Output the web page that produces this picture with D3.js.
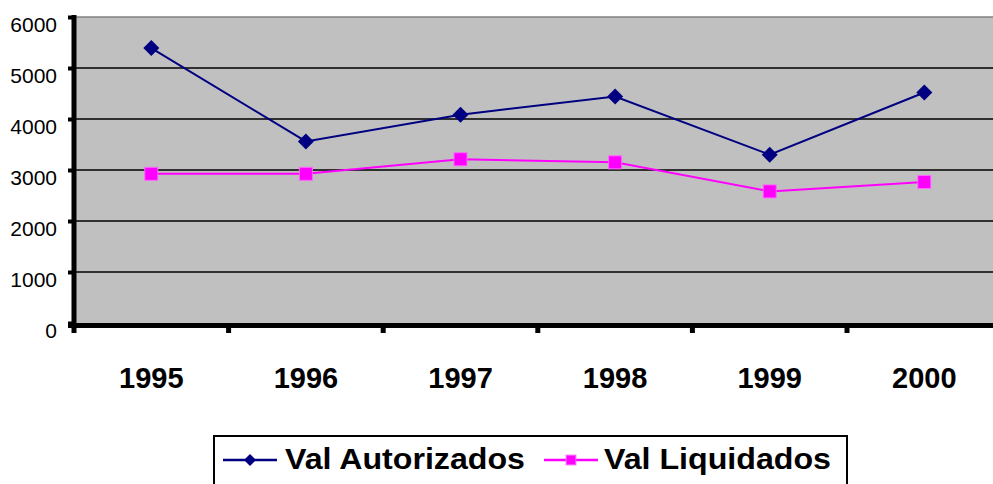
<!DOCTYPE html>
<html>
<head>
<meta charset="utf-8">
<script src="https://cdn.jsdelivr.net/npm/d3@7"></script>
<style>
  html, body { margin: 0; padding: 0; background: #fff; }
  svg { display: block; font-family: "Liberation Sans", Arial, sans-serif; }
</style>
</head>
<body>
<svg id="chart" width="993" height="484"></svg>
<script>
const years = ['1995', '1996', '1997', '1998', '1999', '2000'];
const autorizados = [5390, 3560, 4085, 4440, 3300, 4520];
const liquidados = [2925, 2925, 3210, 3150, 2580, 2765];
const yTicks = [0, 1000, 2000, 3000, 4000, 5000, 6000];

const svg = d3.select('#chart');

const plot = { left: 74, top: 17, bottom: 323, bandW: 154.6 };
plot.right = plot.left + plot.bandW * years.length;

const x = d3.scaleBand().domain(years).range([plot.left, plot.right]);
const y = d3.scaleLinear().domain([0, 6000]).range([plot.bottom, plot.top]);

// plot area
svg.append('rect')
  .attr('x', plot.left).attr('y', plot.top)
  .attr('width', plot.right - plot.left).attr('height', plot.bottom - plot.top)
  .attr('fill', '#c0c0c0');
svg.append('line')
  .attr('x1', plot.left).attr('x2', plot.right)
  .attr('y1', plot.top).attr('y2', plot.top)
  .attr('stroke', '#808080').attr('stroke-width', 1.5);

// gridlines
svg.append('g')
  .selectAll('line')
  .data(yTicks.filter(d => d > 0 && d < 6000))
  .join('line')
  .attr('x1', plot.left).attr('x2', plot.right)
  .attr('y1', d => y(d)).attr('y2', d => y(d))
  .attr('stroke', '#000').attr('stroke-width', 1.5);

// y axis
const yAxis = svg.append('g')
  .attr('transform', `translate(${plot.left},0)`)
  .call(d3.axisLeft(y).tickValues(yTicks).tickFormat(d3.format('d')).tickSize(6).tickPadding(11));
yAxis.select('.domain').remove();
yAxis.selectAll('.tick line').attr('stroke', '#000').attr('stroke-width', 4);
yAxis.selectAll('.tick text')
  .attr('font-size', 21).attr('fill', '#000')
  .attr('font-family', '"Liberation Sans", Arial, sans-serif')
  .attr('dy', 14);
svg.append('line')
  .attr('x1', plot.left).attr('x2', plot.left)
  .attr('y1', plot.top - 2).attr('y2', plot.bottom + 5)
  .attr('stroke', '#000').attr('stroke-width', 5);

// x axis
svg.append('line')
  .attr('x1', plot.left - 6).attr('x2', plot.right)
  .attr('y1', plot.bottom + 2.5).attr('y2', plot.bottom + 2.5)
  .attr('stroke', '#000').attr('stroke-width', 5);
svg.append('g')
  .selectAll('line')
  .data(years)
  .join('line')
  .attr('x1', d => x(d)).attr('x2', d => x(d))
  .attr('y1', plot.bottom).attr('y2', plot.bottom + 10)
  .attr('stroke', '#000').attr('stroke-width', 5);

const xAxis = svg.append('g')
  .attr('transform', `translate(0,${plot.bottom})`)
  .call(d3.axisBottom(x).tickSize(0).tickPadding(0));
xAxis.select('.domain').remove();
xAxis.selectAll('.tick text')
  .attr('font-size', 29).attr('font-weight', 'bold').attr('fill', '#000')
  .attr('font-family', '"Liberation Sans", Arial, sans-serif')
  .attr('y', 65).attr('dy', 0);

// series
const cx = d => x(d) + x.bandwidth() / 2;
const line = d3.line().x(d => cx(d.year)).y(d => y(d.value));

const series = [
  { name: 'Val Autorizados', values: autorizados, color: '#000080', marker: 'diamond' },
  { name: 'Val Liquidados', values: liquidados, color: '#ff00ff', marker: 'square' },
];

function drawMarker(g, s, px, py, scale) {
  if (s.marker === 'diamond') {
    const r = 8 * scale;
    g.append('path')
      .attr('d', `M${px},${py - r}L${px + r},${py}L${px},${py + r}L${px - r},${py}Z`)
      .attr('fill', s.color);
  } else {
    const h = 6.5 * scale;
    g.append('rect')
      .attr('x', px - h).attr('y', py - h)
      .attr('width', 2 * h).attr('height', 2 * h)
      .attr('fill', s.color).attr('stroke', '#ff66ff').attr('stroke-width', 1);
  }
}

series.forEach(s => {
  const pts = years.map((yr, i) => ({ year: yr, value: s.values[i] }));
  svg.append('path')
    .datum(pts)
    .attr('d', line)
    .attr('fill', 'none')
    .attr('stroke', s.color)
    .attr('stroke-width', 2);
  const g = svg.append('g');
  pts.forEach(p => drawMarker(g, s, cx(p.year), y(p.value), 1));
});

// legend
const legend = svg.append('g');
legend.append('rect')
  .attr('x', 214).attr('y', 436)
  .attr('width', 633).attr('height', 60)
  .attr('fill', '#fff').attr('stroke', '#000').attr('stroke-width', 2);

const legendItems = [
  { x0: 223, tx: 285, w: 240 },
  { x0: 544, tx: 604, w: 227 },
];
series.forEach((s, i) => {
  const it = legendItems[i];
  const ly = 460;
  legend.append('line')
    .attr('x1', it.x0).attr('x2', it.x0 + 54)
    .attr('y1', ly).attr('y2', ly)
    .attr('stroke', s.color).attr('stroke-width', 2.5);
  drawMarker(legend, s, it.x0 + 27, ly, 0.75);
  legend.append('text')
    .attr('x', it.tx).attr('y', 469)
    .attr('font-size', 30).attr('font-weight', 'bold')
    .attr('fill', '#000')
    .attr('textLength', it.w).attr('lengthAdjust', 'spacingAndGlyphs')
    .text(s.name);
});
</script>
</body>
</html>
